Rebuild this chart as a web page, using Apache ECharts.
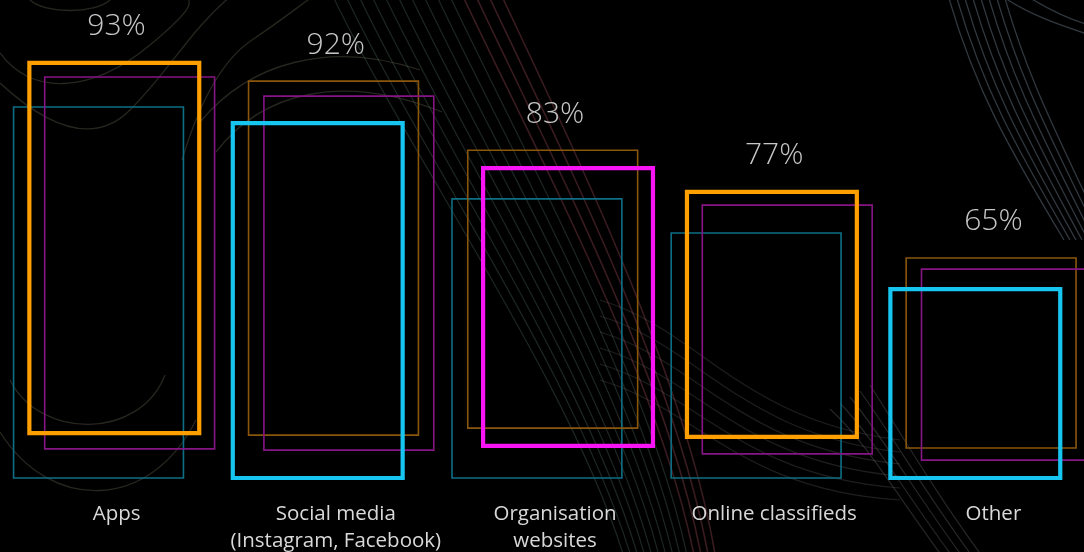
<!DOCTYPE html>
<html>
<head>
<meta charset="utf-8">
<script src="https://cdn.jsdelivr.net/npm/echarts@6/dist/echarts.min.js"></script>
<style>
  html, body { margin: 0; padding: 0; background: #000; }
  #chart { width: 1084px; height: 552px; }
</style>
</head>
<body>
<div id="chart"></div>
<script>
// ---- data ----
const categories = ['Apps', 'Social media\n(Instagram, Facebook)', 'Organisation\nwebsites', 'Online classifieds', 'Other'];
const shares = [93, 92, 83, 77, 65];
// frame extents [bottom, top] on the hidden 0–100 frame scale
const cyanFrames    = [[0, 89.2], [0, 85.3], [0, 67.1], [0, 58.9], [0, 45.4]];
const orangeFrames  = [[10.8, 99.8], [10.3, 95.4], [12.0, 78.8], [9.9, 68.8], [7.2, 52.9]];
const magentaFrames = [[7.0, 96.4], [6.7, 91.8], [7.7, 74.5], [5.8, 65.6], [4.3, 50.2]];

// ---- styling ----
const emphasis = ['orange', 'cyan', 'magenta', 'orange', 'cyan'];
const palette = {
  cyan:    { bold: '#17c6f0', thin: '#0d6f86', shift: -0.47 },
  orange:  { bold: '#ffa000', thin: '#8a560c', shift: -0.398 },
  magenta: { bold: '#f814f4', thin: '#861585', shift: -0.328 }
};
const frameWidth = 0.775;
const FONT = '"Open Sans", Lato, "Noto Sans", sans-serif';

function frameSeries(key, frames, bold) {
  return {
    type: 'custom',
    name: key + (bold ? '-bold' : ''),
    z: bold ? 5 : 3,
    silent: true,
    data: frames.map((f, i) => [i, f[0], f[1]]),
    encode: { x: 0, y: [1, 2] },
    renderItem(params, api) {
      const i = api.value(0);
      if ((emphasis[i] === key) !== bold) return null;
      const bw = api.size([1, 0])[0];
      const lo = api.coord([i, api.value(1)]);
      const hi = api.coord([i, api.value(2)]);
      return {
        type: 'rect',
        shape: {
          x: lo[0] + palette[key].shift * bw,
          y: hi[1],
          width: frameWidth * bw,
          height: lo[1] - hi[1]
        },
        style: {
          fill: 'none',
          stroke: bold ? palette[key].bold : palette[key].thin,
          lineWidth: bold ? 4.2 : 1.6
        }
      };
    }
  };
}

// faint flowing background strokes (cubic curves: x1 y1 cx1 cy1 cx2 cy2 x2 y2)
function strokes(curves, color, width) {
  return curves.map(c => ({
    type: 'bezierCurve', silent: true, z: 0,
    shape: { x1: c[0], y1: c[1], cpx1: c[2], cpy1: c[3], cpx2: c[4], cpy2: c[5], x2: c[6], y2: c[7] },
    style: { fill: 'none', stroke: color, lineWidth: width || 1.2 }
  }));
}
const deco = [];
deco.push(...strokes([
  [30, 0, 45, 14, 95, 14, 110, 0],
  [0, 53, 30, 95, 90, 95, 150, 45], [150, 45, 210, -5, 180, 5, 192, -5],
  [0, 83, 40, 120, 90, 150, 130, 110], [130, 110, 170, 70, 190, 30, 232, -5],
  [182, 160, 200, 100, 222, 60, 252, 40], [252, 40, 282, 20, 300, 5, 322, -10],
  [10, 380, 40, 440, 140, 440, 165, 375],
  [0, 432, 50, 512, 150, 512, 196, 420],
  [200, 122, 250, 62, 330, 40, 420, 70],
  [216, 152, 262, 92, 342, 72, 442, 112]
], 'rgba(140,138,110,0.28)', 1.3));
const diag = [];
for (let k = 0; k < 14; k++) {
  diag.push([330 + 13 * k, -10, 405 + 13 * k, 150, 570 + 9 * k, 380, 625 + 7 * k, 560]);
}
deco.push(...strokes(diag.slice(0, 10), 'rgba(90,120,105,0.32)', 1.2));
deco.push(...strokes(diag.slice(10), 'rgba(150,70,85,0.38)', 1.6));
const flow = [];
for (let k = 0; k < 6; k++) {
  flow.push([600, 300 + 16 * k, 700, 330 + 16 * k, 740, 420 + 14 * k, 900, 440 + 12 * k]);
}
deco.push(...strokes(flow, 'rgba(120,120,120,0.25)', 1.2));
const arcs = [];
for (let k = 0; k < 8; k++) {
  arcs.push([948 + 8 * k, -5, 975 + 8 * k, 90, 1010 + 8 * k, 150, 1064 + 6 * k, 240]);
}
arcs.push([1005, -2, 1030, 15, 1060, 25, 1090, 35], [1030, -2, 1050, 10, 1070, 20, 1090, 25]);
deco.push(...strokes(arcs, 'rgba(70,80,90,0.7)', 1.3));
const low = [];
for (let k = 0; k < 5; k++) {
  low.push([870 - 10 * k, 385 + 6 * k, 905 - 10 * k, 440, 940 - 10 * k, 500, 985 - 10 * k, 560]);
}
deco.push(...strokes(low, 'rgba(110,110,115,0.35)', 1.2));

const chart = echarts.init(document.getElementById('chart'));
chart.setOption({
  backgroundColor: '#000',
  animation: false,
  graphic: deco,
  grid: { left: 7, width: 1096, top: 62, bottom: 74, outerBoundsMode: 'none', containLabel: false },
  xAxis: {
    type: 'category',
    data: categories,
    axisLine: { show: false },
    axisTick: { show: false },
    splitLine: { show: false },
    axisLabel: {
      interval: 0,
      margin: 23,
      color: '#d9d9d9',
      fontFamily: FONT,
      fontSize: 20.5,
      lineHeight: 27
    }
  },
  yAxis: { type: 'value', min: 0, max: 100, show: false, splitLine: { show: false } },
  series: [
    frameSeries('cyan', cyanFrames, false),
    frameSeries('orange', orangeFrames, false),
    frameSeries('magenta', magentaFrames, false),
    frameSeries('cyan', cyanFrames, true),
    frameSeries('orange', orangeFrames, true),
    frameSeries('magenta', magentaFrames, true),
    {
      type: 'custom',
      name: 'share',
      z: 6,
      silent: true,
      data: shares.map((v, i) => [i, Math.max(cyanFrames[i][1], orangeFrames[i][1], magentaFrames[i][1]), v]),
      encode: { x: 0, y: 1 },
      renderItem(params, api) {
        const p = api.coord([api.value(0), api.value(1)]);
        return {
          type: 'text',
          x: p[0],
          y: p[1] - 36,
          style: {
            text: api.value(2) + '%',
            fill: '#c6c6c6',
            fontFamily: FONT,
            fontWeight: 300,
            fontSize: 30,
            align: 'center',
            verticalAlign: 'middle'
          }
        };
      }
    }
  ]
});
</script>
</body>
</html>
